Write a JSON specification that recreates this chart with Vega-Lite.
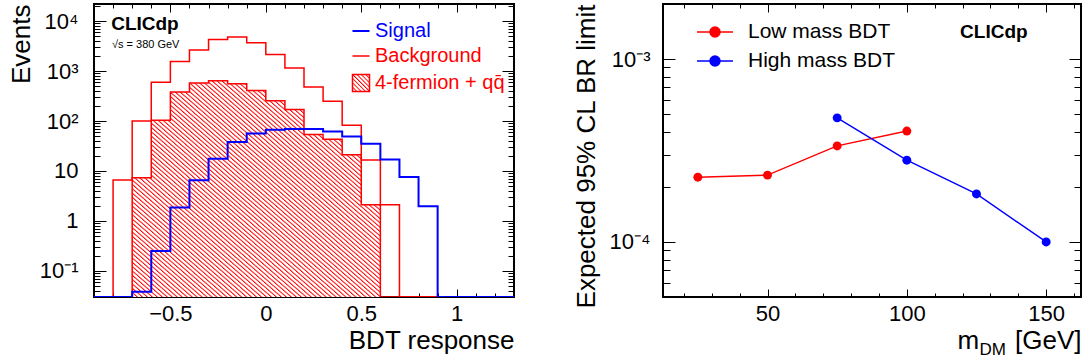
{
"$schema": "https://vega.github.io/schema/vega-lite/v6.json",
"background": "white",
"padding": {"left": 7, "top": 2, "right": 6, "bottom": 0},
"datasets": {
"hist": [
{"s":"Signal","x":-0.9,"n":0.03},{"s":"Signal","x":-0.8,"n":0.03},{"s":"Signal","x":-0.7,"n":0.038},{"s":"Signal","x":-0.6,"n":0.25},{"s":"Signal","x":-0.5,"n":1.85},{"s":"Signal","x":-0.4,"n":6.5},{"s":"Signal","x":-0.3,"n":17.6},{"s":"Signal","x":-0.2,"n":38},{"s":"Signal","x":-0.1,"n":56},{"s":"Signal","x":0,"n":67},{"s":"Signal","x":0.1,"n":69},{"s":"Signal","x":0.2,"n":69},{"s":"Signal","x":0.3,"n":62},{"s":"Signal","x":0.4,"n":49},{"s":"Signal","x":0.5,"n":35},{"s":"Signal","x":0.6,"n":17},{"s":"Signal","x":0.7,"n":7.6},{"s":"Signal","x":0.8,"n":1.97},{"s":"Signal","x":0.9,"n":0.03},{"s":"Signal","x":1.0,"n":0.03},{"s":"Signal","x":1.1,"n":0.03},{"s":"Signal","x":1.2,"n":0.03},{"s":"Signal","x":1.3,"n":0.03},
{"s":"Background","x":-0.9,"n":0.03},{"s":"Background","x":-0.8,"n":6.6},{"s":"Background","x":-0.7,"n":100},{"s":"Background","x":-0.6,"n":600},{"s":"Background","x":-0.5,"n":1550},{"s":"Background","x":-0.4,"n":2650},{"s":"Background","x":-0.3,"n":4300},{"s":"Background","x":-0.2,"n":4800},{"s":"Background","x":-0.1,"n":3700},{"s":"Background","x":0,"n":2150},{"s":"Background","x":0.1,"n":1150},{"s":"Background","x":0.2,"n":480},{"s":"Background","x":0.3,"n":250},{"s":"Background","x":0.4,"n":82},{"s":"Background","x":0.5,"n":16.6},{"s":"Background","x":0.6,"n":2.1},{"s":"Background","x":0.7,"n":0.03},{"s":"Background","x":0.8,"n":0.03},{"s":"Background","x":0.9,"n":0.03},{"s":"Background","x":1.0,"n":0.03},{"s":"Background","x":1.1,"n":0.03},{"s":"Background","x":1.2,"n":0.03},{"s":"Background","x":1.3,"n":0.03},
{"s":"4-fermion + qq\u0304","x":-0.9,"n":0.03},{"s":"4-fermion + qq\u0304","x":-0.8,"n":0.03},{"s":"4-fermion + qq\u0304","x":-0.7,"n":7.3},{"s":"4-fermion + qq\u0304","x":-0.6,"n":103},{"s":"4-fermion + qq\u0304","x":-0.5,"n":380},{"s":"4-fermion + qq\u0304","x":-0.4,"n":580},{"s":"4-fermion + qq\u0304","x":-0.3,"n":640},{"s":"4-fermion + qq\u0304","x":-0.2,"n":560},{"s":"4-fermion + qq\u0304","x":-0.1,"n":410},{"s":"4-fermion + qq\u0304","x":0,"n":255},{"s":"4-fermion + qq\u0304","x":0.1,"n":171},{"s":"4-fermion + qq\u0304","x":0.2,"n":54},{"s":"4-fermion + qq\u0304","x":0.3,"n":43},{"s":"4-fermion + qq\u0304","x":0.4,"n":21},{"s":"4-fermion + qq\u0304","x":0.5,"n":2.1},{"s":"4-fermion + qq\u0304","x":0.6,"n":0.03},{"s":"4-fermion + qq\u0304","x":0.7,"n":0.03},{"s":"4-fermion + qq\u0304","x":0.8,"n":0.03},{"s":"4-fermion + qq\u0304","x":0.9,"n":0.03},{"s":"4-fermion + qq\u0304","x":1.0,"n":0.03},{"s":"4-fermion + qq\u0304","x":1.1,"n":0.03},{"s":"4-fermion + qq\u0304","x":1.2,"n":0.03},{"s":"4-fermion + qq\u0304","x":1.3,"n":0.03}
],
"limits": [
{"s":"Low mass BDT","m":25,"v":0.000226},{"s":"Low mass BDT","m":50,"v":0.000232},{"s":"Low mass BDT","m":75,"v":0.000335},{"s":"Low mass BDT","m":100,"v":0.000404},
{"s":"High mass BDT","m":75,"v":0.000477},{"s":"High mass BDT","m":100,"v":0.00028},{"s":"High mass BDT","m":125,"v":0.000183},{"s":"High mass BDT","m":150,"v":0.0001}
]
},
"spacing": 56,
"resolve": {"scale": {"color": "independent"}, "legend": {"color": "independent"}},
"hconcat": [
{
"width": 420, "height": 293,
"resolve": {"axis": {"x": "independent", "y": "independent"}},
"layer": [
{
"data": {"name": "hist"},
"transform": [{"filter": "datum.s !== 'Signal' && datum.s !== 'Background' && datum.x > -0.75 && datum.x < 0.65"}],
"mark": {"type": "area", "interpolate": "step-after", "clip": true, "fill": {"gradient": "linear", "x1": 0, "y1": 1, "x2": 1, "y2": 0, "stops": [
{"offset":0,"color":"#f00"},{"offset":0.004,"color":"#fff"},{"offset":0.008,"color":"#fff"},
{"offset":0.01,"color":"#f00"},{"offset":0.014,"color":"#fff"},{"offset":0.018,"color":"#fff"},
{"offset":0.02,"color":"#f00"},{"offset":0.024,"color":"#fff"},{"offset":0.028,"color":"#fff"},
{"offset":0.03,"color":"#f00"},{"offset":0.034,"color":"#fff"},{"offset":0.038,"color":"#fff"},
{"offset":0.04,"color":"#f00"},{"offset":0.044,"color":"#fff"},{"offset":0.048,"color":"#fff"},
{"offset":0.05,"color":"#f00"},{"offset":0.054,"color":"#fff"},{"offset":0.058,"color":"#fff"},
{"offset":0.06,"color":"#f00"},{"offset":0.064,"color":"#fff"},{"offset":0.068,"color":"#fff"},
{"offset":0.07,"color":"#f00"},{"offset":0.074,"color":"#fff"},{"offset":0.078,"color":"#fff"},
{"offset":0.08,"color":"#f00"},{"offset":0.084,"color":"#fff"},{"offset":0.088,"color":"#fff"},
{"offset":0.09,"color":"#f00"},{"offset":0.094,"color":"#fff"},{"offset":0.098,"color":"#fff"},
{"offset":0.1,"color":"#f00"},{"offset":0.104,"color":"#fff"},{"offset":0.108,"color":"#fff"},
{"offset":0.11,"color":"#f00"},{"offset":0.114,"color":"#fff"},{"offset":0.118,"color":"#fff"},
{"offset":0.12,"color":"#f00"},{"offset":0.124,"color":"#fff"},{"offset":0.128,"color":"#fff"},
{"offset":0.13,"color":"#f00"},{"offset":0.134,"color":"#fff"},{"offset":0.138,"color":"#fff"},
{"offset":0.14,"color":"#f00"},{"offset":0.144,"color":"#fff"},{"offset":0.148,"color":"#fff"},
{"offset":0.15,"color":"#f00"},{"offset":0.154,"color":"#fff"},{"offset":0.158,"color":"#fff"},
{"offset":0.16,"color":"#f00"},{"offset":0.164,"color":"#fff"},{"offset":0.168,"color":"#fff"},
{"offset":0.17,"color":"#f00"},{"offset":0.174,"color":"#fff"},{"offset":0.178,"color":"#fff"},
{"offset":0.18,"color":"#f00"},{"offset":0.184,"color":"#fff"},{"offset":0.188,"color":"#fff"},
{"offset":0.19,"color":"#f00"},{"offset":0.194,"color":"#fff"},{"offset":0.198,"color":"#fff"},
{"offset":0.2,"color":"#f00"},{"offset":0.204,"color":"#fff"},{"offset":0.208,"color":"#fff"},
{"offset":0.21,"color":"#f00"},{"offset":0.214,"color":"#fff"},{"offset":0.218,"color":"#fff"},
{"offset":0.22,"color":"#f00"},{"offset":0.224,"color":"#fff"},{"offset":0.228,"color":"#fff"},
{"offset":0.23,"color":"#f00"},{"offset":0.234,"color":"#fff"},{"offset":0.238,"color":"#fff"},
{"offset":0.24,"color":"#f00"},{"offset":0.244,"color":"#fff"},{"offset":0.248,"color":"#fff"},
{"offset":0.25,"color":"#f00"},{"offset":0.254,"color":"#fff"},{"offset":0.258,"color":"#fff"},
{"offset":0.26,"color":"#f00"},{"offset":0.264,"color":"#fff"},{"offset":0.268,"color":"#fff"},
{"offset":0.27,"color":"#f00"},{"offset":0.274,"color":"#fff"},{"offset":0.278,"color":"#fff"},
{"offset":0.28,"color":"#f00"},{"offset":0.284,"color":"#fff"},{"offset":0.288,"color":"#fff"},
{"offset":0.29,"color":"#f00"},{"offset":0.294,"color":"#fff"},{"offset":0.298,"color":"#fff"},
{"offset":0.3,"color":"#f00"},{"offset":0.304,"color":"#fff"},{"offset":0.308,"color":"#fff"},
{"offset":0.31,"color":"#f00"},{"offset":0.314,"color":"#fff"},{"offset":0.318,"color":"#fff"},
{"offset":0.32,"color":"#f00"},{"offset":0.324,"color":"#fff"},{"offset":0.328,"color":"#fff"},
{"offset":0.33,"color":"#f00"},{"offset":0.334,"color":"#fff"},{"offset":0.338,"color":"#fff"},
{"offset":0.34,"color":"#f00"},{"offset":0.344,"color":"#fff"},{"offset":0.348,"color":"#fff"},
{"offset":0.35,"color":"#f00"},{"offset":0.354,"color":"#fff"},{"offset":0.358,"color":"#fff"},
{"offset":0.36,"color":"#f00"},{"offset":0.364,"color":"#fff"},{"offset":0.368,"color":"#fff"},
{"offset":0.37,"color":"#f00"},{"offset":0.374,"color":"#fff"},{"offset":0.378,"color":"#fff"},
{"offset":0.38,"color":"#f00"},{"offset":0.384,"color":"#fff"},{"offset":0.388,"color":"#fff"},
{"offset":0.39,"color":"#f00"},{"offset":0.394,"color":"#fff"},{"offset":0.398,"color":"#fff"},
{"offset":0.4,"color":"#f00"},{"offset":0.404,"color":"#fff"},{"offset":0.408,"color":"#fff"},
{"offset":0.41,"color":"#f00"},{"offset":0.414,"color":"#fff"},{"offset":0.418,"color":"#fff"},
{"offset":0.42,"color":"#f00"},{"offset":0.424,"color":"#fff"},{"offset":0.428,"color":"#fff"},
{"offset":0.43,"color":"#f00"},{"offset":0.434,"color":"#fff"},{"offset":0.438,"color":"#fff"},
{"offset":0.44,"color":"#f00"},{"offset":0.444,"color":"#fff"},{"offset":0.448,"color":"#fff"},
{"offset":0.45,"color":"#f00"},{"offset":0.454,"color":"#fff"},{"offset":0.458,"color":"#fff"},
{"offset":0.46,"color":"#f00"},{"offset":0.464,"color":"#fff"},{"offset":0.468,"color":"#fff"},
{"offset":0.47,"color":"#f00"},{"offset":0.474,"color":"#fff"},{"offset":0.478,"color":"#fff"},
{"offset":0.48,"color":"#f00"},{"offset":0.484,"color":"#fff"},{"offset":0.488,"color":"#fff"},
{"offset":0.49,"color":"#f00"},{"offset":0.494,"color":"#fff"},{"offset":0.498,"color":"#fff"},
{"offset":0.5,"color":"#f00"},{"offset":0.504,"color":"#fff"},{"offset":0.508,"color":"#fff"},
{"offset":0.51,"color":"#f00"},{"offset":0.514,"color":"#fff"},{"offset":0.518,"color":"#fff"},
{"offset":0.52,"color":"#f00"},{"offset":0.524,"color":"#fff"},{"offset":0.528,"color":"#fff"},
{"offset":0.53,"color":"#f00"},{"offset":0.534,"color":"#fff"},{"offset":0.538,"color":"#fff"},
{"offset":0.54,"color":"#f00"},{"offset":0.544,"color":"#fff"},{"offset":0.548,"color":"#fff"},
{"offset":0.55,"color":"#f00"},{"offset":0.554,"color":"#fff"},{"offset":0.558,"color":"#fff"},
{"offset":0.56,"color":"#f00"},{"offset":0.564,"color":"#fff"},{"offset":0.568,"color":"#fff"},
{"offset":0.57,"color":"#f00"},{"offset":0.574,"color":"#fff"},{"offset":0.578,"color":"#fff"},
{"offset":0.58,"color":"#f00"},{"offset":0.584,"color":"#fff"},{"offset":0.588,"color":"#fff"},
{"offset":0.59,"color":"#f00"},{"offset":0.594,"color":"#fff"},{"offset":0.598,"color":"#fff"},
{"offset":0.6,"color":"#f00"},{"offset":0.604,"color":"#fff"},{"offset":0.608,"color":"#fff"},
{"offset":0.61,"color":"#f00"},{"offset":0.614,"color":"#fff"},{"offset":0.618,"color":"#fff"},
{"offset":0.62,"color":"#f00"},{"offset":0.624,"color":"#fff"},{"offset":0.628,"color":"#fff"},
{"offset":0.63,"color":"#f00"},{"offset":0.634,"color":"#fff"},{"offset":0.638,"color":"#fff"},
{"offset":0.64,"color":"#f00"},{"offset":0.644,"color":"#fff"},{"offset":0.648,"color":"#fff"},
{"offset":0.65,"color":"#f00"},{"offset":0.654,"color":"#fff"},{"offset":0.658,"color":"#fff"},
{"offset":0.66,"color":"#f00"},{"offset":0.664,"color":"#fff"},{"offset":0.668,"color":"#fff"},
{"offset":0.67,"color":"#f00"},{"offset":0.674,"color":"#fff"},{"offset":0.678,"color":"#fff"},
{"offset":0.68,"color":"#f00"},{"offset":0.684,"color":"#fff"},{"offset":0.688,"color":"#fff"},
{"offset":0.69,"color":"#f00"},{"offset":0.694,"color":"#fff"},{"offset":0.698,"color":"#fff"},
{"offset":0.7,"color":"#f00"},{"offset":0.704,"color":"#fff"},{"offset":0.708,"color":"#fff"},
{"offset":0.71,"color":"#f00"},{"offset":0.714,"color":"#fff"},{"offset":0.718,"color":"#fff"},
{"offset":0.72,"color":"#f00"},{"offset":0.724,"color":"#fff"},{"offset":0.728,"color":"#fff"},
{"offset":0.73,"color":"#f00"},{"offset":0.734,"color":"#fff"},{"offset":0.738,"color":"#fff"},
{"offset":0.74,"color":"#f00"},{"offset":0.744,"color":"#fff"},{"offset":0.748,"color":"#fff"},
{"offset":0.75,"color":"#f00"},{"offset":0.754,"color":"#fff"},{"offset":0.758,"color":"#fff"},
{"offset":0.76,"color":"#f00"},{"offset":0.764,"color":"#fff"},{"offset":0.768,"color":"#fff"},
{"offset":0.77,"color":"#f00"},{"offset":0.774,"color":"#fff"},{"offset":0.778,"color":"#fff"},
{"offset":0.78,"color":"#f00"},{"offset":0.784,"color":"#fff"},{"offset":0.788,"color":"#fff"},
{"offset":0.79,"color":"#f00"},{"offset":0.794,"color":"#fff"},{"offset":0.798,"color":"#fff"},
{"offset":0.8,"color":"#f00"},{"offset":0.804,"color":"#fff"},{"offset":0.808,"color":"#fff"},
{"offset":0.81,"color":"#f00"},{"offset":0.814,"color":"#fff"},{"offset":0.818,"color":"#fff"},
{"offset":0.82,"color":"#f00"},{"offset":0.824,"color":"#fff"},{"offset":0.828,"color":"#fff"},
{"offset":0.83,"color":"#f00"},{"offset":0.834,"color":"#fff"},{"offset":0.838,"color":"#fff"},
{"offset":0.84,"color":"#f00"},{"offset":0.844,"color":"#fff"},{"offset":0.848,"color":"#fff"},
{"offset":0.85,"color":"#f00"},{"offset":0.854,"color":"#fff"},{"offset":0.858,"color":"#fff"},
{"offset":0.86,"color":"#f00"},{"offset":0.864,"color":"#fff"},{"offset":0.868,"color":"#fff"},
{"offset":0.87,"color":"#f00"},{"offset":0.874,"color":"#fff"},{"offset":0.878,"color":"#fff"},
{"offset":0.88,"color":"#f00"},{"offset":0.884,"color":"#fff"},{"offset":0.888,"color":"#fff"},
{"offset":0.89,"color":"#f00"},{"offset":0.894,"color":"#fff"},{"offset":0.898,"color":"#fff"},
{"offset":0.9,"color":"#f00"},{"offset":0.904,"color":"#fff"},{"offset":0.908,"color":"#fff"},
{"offset":0.91,"color":"#f00"},{"offset":0.914,"color":"#fff"},{"offset":0.918,"color":"#fff"},
{"offset":0.92,"color":"#f00"},{"offset":0.924,"color":"#fff"},{"offset":0.928,"color":"#fff"},
{"offset":0.93,"color":"#f00"},{"offset":0.934,"color":"#fff"},{"offset":0.938,"color":"#fff"},
{"offset":0.94,"color":"#f00"},{"offset":0.944,"color":"#fff"},{"offset":0.948,"color":"#fff"},
{"offset":0.95,"color":"#f00"},{"offset":0.954,"color":"#fff"},{"offset":0.958,"color":"#fff"},
{"offset":0.96,"color":"#f00"},{"offset":0.964,"color":"#fff"},{"offset":0.968,"color":"#fff"},
{"offset":0.97,"color":"#f00"},{"offset":0.974,"color":"#fff"},{"offset":0.978,"color":"#fff"},
{"offset":0.98,"color":"#f00"},{"offset":0.984,"color":"#fff"},{"offset":0.988,"color":"#fff"},
{"offset":0.99,"color":"#f00"},{"offset":0.994,"color":"#fff"},{"offset":0.998,"color":"#fff"},
{"offset":1,"color":"#f00"}
]}},
"encoding": {
"x": {"field": "x", "type": "quantitative", "scale": {"domain": [-0.9, 1.3], "nice": false, "zero": false},
 "axis": {"orient": "bottom", "values": [-0.5, 0, 0.5, 1], "format": "~g", "tickSize": -8, "labelPadding": 14, "title": "BDT response", "titleAnchor": "end", "titleAlign": "right", "titleBaseline": "alphabetic", "titleY": 51}},
"y": {"field": "n", "type": "quantitative", "scale": {"type": "log", "domain": [0.03, 22000], "nice": false},
 "axis": {"orient": "left", "values": [0.1, 1, 10, 100, 1000, 10000], "tickSize": -12, "labelPadding": 28, "labelExpr": "datum.value === 0.1 ? '10⁻¹' : datum.value === 1 ? '1' : datum.value === 10 ? '10' : datum.value === 100 ? '10²' : datum.value === 1000 ? '10³' : '10⁴'", "title": "Events", "titleAnchor": "end", "titleAlign": "right", "titleBaseline": "alphabetic", "titleAngle": 270, "titleX": -65}},
"y2": {"datum": 0.03}
}
},
{
"data": {"name": "hist"},
"transform": [{"filter": "datum.s !== 'Signal'"}],
"mark": {"type": "line", "interpolate": "step-after", "strokeWidth": 1.5, "clip": true},
"encoding": {
"x": {"field": "x", "type": "quantitative", "axis": {"orient": "bottom", "values": [-0.8,-0.7,-0.6,-0.4,-0.3,-0.2,-0.1,0.1,0.2,0.3,0.4,0.6,0.7,0.8,0.9,1.1,1.2], "tickSize": -4, "labels": false, "title": null}},
"y": {"field": "n", "type": "quantitative", "axis": {"orient": "left", "values": [0.04,0.05,0.06,0.07,0.08,0.09,0.2,0.3,0.4,0.5,0.6,0.7,0.8,0.9,2,3,4,5,6,7,8,9,20,30,40,50,60,70,80,90,200,300,400,500,600,700,800,900,2000,3000,4000,5000,6000,7000,8000,9000,20000], "tickSize": -6, "labels": false, "title": null}},
"color": {"field": "s", "type": "nominal", "scale": {"domain": ["Signal", "Background", "4-fermion + qq\u0304"], "range": ["#0000ff", "#ff0000", "#ff0000"]},
 "legend": {"orient": "none", "legendX": 257, "legendY": 17, "title": null, "padding": 0, "symbolSize": 289, "labelFontSize": 20, "labelOffset": 4, "rowPadding": 5, "labelLimit": 300,
  "encode": {
   "symbols": {"update": {
     "shape": {"signal": "datum.value === 'Signal' || datum.value === 'Background' ? 'stroke' : 'square'"},
     "fill": {"value": {"gradient": "linear", "x1": 0, "y1": 1, "x2": 1, "y2": 0, "stops": [{"offset":0,"color":"#f00"},{"offset":0.05,"color":"#fff"},{"offset":0.1,"color":"#fff"},{"offset":0.125,"color":"#f00"},{"offset":0.175,"color":"#fff"},{"offset":0.225,"color":"#fff"},{"offset":0.25,"color":"#f00"},{"offset":0.3,"color":"#fff"},{"offset":0.35,"color":"#fff"},{"offset":0.375,"color":"#f00"},{"offset":0.425,"color":"#fff"},{"offset":0.475,"color":"#fff"},{"offset":0.5,"color":"#f00"},{"offset":0.55,"color":"#fff"},{"offset":0.6,"color":"#fff"},{"offset":0.625,"color":"#f00"},{"offset":0.675,"color":"#fff"},{"offset":0.725,"color":"#fff"},{"offset":0.75,"color":"#f00"},{"offset":0.8,"color":"#fff"},{"offset":0.85,"color":"#fff"},{"offset":0.875,"color":"#f00"},{"offset":0.925,"color":"#fff"},{"offset":0.975,"color":"#fff"},{"offset":1,"color":"#f00"}]}},
     "stroke": {"signal": "datum.value === 'Signal' ? '#0000ff' : '#ff0000'"},
     "strokeWidth": {"signal": "datum.value === 'Signal' ? 2 : 1.5"},
     "opacity": {"value": 1}, "fillOpacity": {"value": 1}, "strokeOpacity": {"value": 1}}},
   "labels": {"update": {"fill": {"signal": "datum.value === 'Signal' ? '#0000ff' : '#ff0000'"}}}
  }}}
}
},
{
"data": {"name": "hist"},
"transform": [{"filter": "datum.s === 'Signal'"}],
"mark": {"type": "line", "interpolate": "step-after", "strokeWidth": 2, "clip": true},
"encoding": {
"x": {"field": "x", "type": "quantitative", "axis": null},
"y": {"field": "n", "type": "quantitative", "axis": null},
"color": {"field": "s", "type": "nominal", "scale": {"domain": ["Signal", "Background", "4-fermion + qq\u0304"], "range": ["#0000ff", "#ff0000", "#ff0000"]},
 "legend": {"orient": "none", "legendX": 257, "legendY": 17, "title": null, "padding": 0, "symbolSize": 289, "labelFontSize": 20, "labelOffset": 4, "rowPadding": 5, "labelLimit": 300,
  "encode": {
   "symbols": {"update": {
     "shape": {"signal": "datum.value === 'Signal' || datum.value === 'Background' ? 'stroke' : 'square'"},
     "fill": {"value": {"gradient": "linear", "x1": 0, "y1": 1, "x2": 1, "y2": 0, "stops": [{"offset":0,"color":"#f00"},{"offset":0.05,"color":"#fff"},{"offset":0.1,"color":"#fff"},{"offset":0.125,"color":"#f00"},{"offset":0.175,"color":"#fff"},{"offset":0.225,"color":"#fff"},{"offset":0.25,"color":"#f00"},{"offset":0.3,"color":"#fff"},{"offset":0.35,"color":"#fff"},{"offset":0.375,"color":"#f00"},{"offset":0.425,"color":"#fff"},{"offset":0.475,"color":"#fff"},{"offset":0.5,"color":"#f00"},{"offset":0.55,"color":"#fff"},{"offset":0.6,"color":"#fff"},{"offset":0.625,"color":"#f00"},{"offset":0.675,"color":"#fff"},{"offset":0.725,"color":"#fff"},{"offset":0.75,"color":"#f00"},{"offset":0.8,"color":"#fff"},{"offset":0.85,"color":"#fff"},{"offset":0.875,"color":"#f00"},{"offset":0.925,"color":"#fff"},{"offset":0.975,"color":"#fff"},{"offset":1,"color":"#f00"}]}},
     "stroke": {"signal": "datum.value === 'Signal' ? '#0000ff' : '#ff0000'"},
     "strokeWidth": {"signal": "datum.value === 'Signal' ? 2 : 1.5"},
     "opacity": {"value": 1}, "fillOpacity": {"value": 1}, "strokeOpacity": {"value": 1}}},
   "labels": {"update": {"fill": {"signal": "datum.value === 'Signal' ? '#0000ff' : '#ff0000'"}}}
  }}}
}
},
{
"data": {"values": [{}]},
"mark": {"type": "text", "text": "CLICdp", "font": "Liberation Sans", "fontWeight": "bold", "fontSize": 19, "align": "left", "baseline": "alphabetic", "color": "#000"},
"encoding": {
"x": {"datum": -0.81, "type": "quantitative", "axis": {"orient": "top", "values": [-0.5, 0, 0.5, 1], "tickSize": -8, "labels": false, "title": null}},
"y": {"datum": 6600, "type": "quantitative", "axis": {"orient": "right", "values": [0.1, 1, 10, 100, 1000, 10000], "tickSize": -12, "labels": false, "title": null}}
}
},
{
"data": {"values": [{}]},
"mark": {"type": "text", "text": "√s = 380 GeV", "font": "Liberation Sans", "fontSize": 11, "align": "left", "baseline": "alphabetic", "color": "#000"},
"encoding": {
"x": {"datum": -0.806, "type": "quantitative", "axis": {"orient": "top", "values": [-0.8,-0.7,-0.6,-0.4,-0.3,-0.2,-0.1,0.1,0.2,0.3,0.4,0.6,0.7,0.8,0.9,1.1,1.2], "tickSize": -4, "labels": false, "title": null}},
"y": {"datum": 2890, "type": "quantitative", "axis": {"orient": "right", "values": [0.04,0.05,0.06,0.07,0.08,0.09,0.2,0.3,0.4,0.5,0.6,0.7,0.8,0.9,2,3,4,5,6,7,8,9,20,30,40,50,60,70,80,90,200,300,400,500,600,700,800,900,2000,3000,4000,5000,6000,7000,8000,9000,20000], "tickSize": -6, "labels": false, "title": null}}
}
}
]
},
{
"width": 418, "height": 293,
"resolve": {"axis": {"x": "independent", "y": "independent"}},
"layer": [
{
"data": {"name": "limits"},
"transform": [{"filter": "datum.s === 'Low mass BDT'"}],
"mark": {"type": "line", "strokeWidth": 1.4},
"encoding": {
"x": {"field": "m", "type": "quantitative", "scale": {"domain": [12.5, 162.5], "nice": false, "zero": false},
 "axis": {"orient": "bottom", "values": [50, 100, 150], "tickSize": -8, "labelPadding": 14, "title": "m", "titleX": 294, "titleAlign": "left", "titleBaseline": "alphabetic", "titleY": 51.5}},
"y": {"field": "v", "type": "quantitative", "scale": {"type": "log", "domain": [0.00005, 0.002], "nice": false},
 "axis": {"orient": "left", "values": [0.0001, 0.001], "tickSize": -12, "labelPadding": 25, "labelExpr": "datum.value < 0.0005 ? '10⁻⁴' : '10⁻³'", "title": "Expected 95% CL BR limit", "titleAnchor": "end", "titleAlign": "right", "titleBaseline": "alphabetic", "titleAngle": 270, "titleX": -69}},
"color": {"field": "s", "type": "nominal", "scale": {"domain": ["Low mass BDT", "High mass BDT"], "range": ["#ff0000", "#0000ff"]},
 "legend": {"orient": "none", "legendX": 33, "legendY": 9, "title": null, "padding": 0, "symbolType": "M-1,0L1,0M0.28,0A0.28,0.28 0 1 1 -0.28,0A0.28,0.28 0 1 1 0.28,0Z", "symbolSize": 1296, "labelFontSize": 21, "labelOffset": 14, "rowPadding": 0, "labelColor": "#000",
  "encode": {"symbols": {"update": {"fill": {"signal": "datum.value === 'Low mass BDT' ? '#ff0000' : '#0000ff'"}, "stroke": {"signal": "datum.value === 'Low mass BDT' ? '#ff0000' : '#0000ff'"}, "strokeWidth": {"value": 1.4}, "opacity": {"value": 1}, "fillOpacity": {"value": 1}}}}}}
}
},
{
"data": {"name": "limits"},
"transform": [{"filter": "datum.s === 'High mass BDT'"}],
"mark": {"type": "line", "strokeWidth": 1.4},
"encoding": {
"x": {"field": "m", "type": "quantitative", "axis": {"orient": "bottom", "values": [20,30,40,60,70,80,90,110,120,130,140,160], "tickSize": -4, "labels": false, "title": "DM", "titleFontSize": 17, "titleX": 316, "titleY": 57, "titleAlign": "left", "titleBaseline": "alphabetic"}},
"y": {"field": "v", "type": "quantitative", "axis": {"orient": "left", "values": [0.00006,0.00007,0.00008,0.00009,0.0002,0.0003,0.0004,0.0005,0.0006,0.0007,0.0008,0.0009], "tickSize": -7, "labels": false, "title": null}},
"color": {"field": "s", "type": "nominal", "scale": {"domain": ["Low mass BDT", "High mass BDT"], "range": ["#ff0000", "#0000ff"]},
 "legend": {"orient": "none", "legendX": 33, "legendY": 9, "title": null, "padding": 0, "symbolType": "M-1,0L1,0M0.28,0A0.28,0.28 0 1 1 -0.28,0A0.28,0.28 0 1 1 0.28,0Z", "symbolSize": 1296, "labelFontSize": 21, "labelOffset": 14, "rowPadding": 0, "labelColor": "#000",
  "encode": {"symbols": {"update": {"fill": {"signal": "datum.value === 'Low mass BDT' ? '#ff0000' : '#0000ff'"}, "stroke": {"signal": "datum.value === 'Low mass BDT' ? '#ff0000' : '#0000ff'"}, "strokeWidth": {"value": 1.4}, "opacity": {"value": 1}, "fillOpacity": {"value": 1}}}}}}
}
},
{
"data": {"name": "limits"},
"mark": {"type": "point", "filled": true, "size": 80, "opacity": 1},
"encoding": {
"x": {"field": "m", "type": "quantitative", "axis": {"orient": "top", "values": [50, 100, 150], "tickSize": -8, "labels": false, "title": "[GeV]", "titleAnchor": "end", "titleAlign": "right", "titleBaseline": "alphabetic", "titleY": 344.5}},
"y": {"field": "v", "type": "quantitative", "axis": {"orient": "right", "values": [0.0001, 0.001], "tickSize": -12, "labels": false, "title": null}},
"color": {"field": "s", "type": "nominal", "scale": {"domain": ["Low mass BDT", "High mass BDT"], "range": ["#ff0000", "#0000ff"]},
 "legend": {"orient": "none", "legendX": 33, "legendY": 9, "title": null, "padding": 0, "symbolType": "M-1,0L1,0M0.28,0A0.28,0.28 0 1 1 -0.28,0A0.28,0.28 0 1 1 0.28,0Z", "symbolSize": 1296, "labelFontSize": 21, "labelOffset": 14, "rowPadding": 0, "labelColor": "#000",
  "encode": {"symbols": {"update": {"fill": {"signal": "datum.value === 'Low mass BDT' ? '#ff0000' : '#0000ff'"}, "stroke": {"signal": "datum.value === 'Low mass BDT' ? '#ff0000' : '#0000ff'"}, "strokeWidth": {"value": 1.4}, "opacity": {"value": 1}, "fillOpacity": {"value": 1}}}}}}
}
},
{
"data": {"values": [{}]},
"mark": {"type": "text", "text": "CLICdp", "font": "Liberation Sans", "fontWeight": "bold", "fontSize": 19, "align": "left", "baseline": "alphabetic", "color": "#000"},
"encoding": {
"x": {"datum": 119.1, "type": "quantitative", "axis": {"orient": "top", "values": [20,30,40,60,70,80,90,110,120,130,140,160], "tickSize": -4, "labels": false, "title": null}},
"y": {"datum": 0.0013, "type": "quantitative", "axis": {"orient": "right", "values": [0.00006,0.00007,0.00008,0.00009,0.0002,0.0003,0.0004,0.0005,0.0006,0.0007,0.0008,0.0009], "tickSize": -7, "labels": false, "title": null}}
}
}
]
}
],
"config": {
"font": "Liberation Sans",
"view": {"stroke": "#000", "strokeWidth": 2},
"axis": {"domain": false, "grid": false, "tickColor": "#000", "tickWidth": 1, "labelColor": "#000", "labelFont": "Liberation Sans", "labelFontSize": 22, "titleColor": "#000", "titleFont": "Liberation Sans", "titleFontSize": 26, "titleFontWeight": "normal", "labelFlush": false, "labelOverlap": false, "labelBound": false},
"legend": {"labelFont": "Liberation Sans", "labelColor": "#000"}
}
}
